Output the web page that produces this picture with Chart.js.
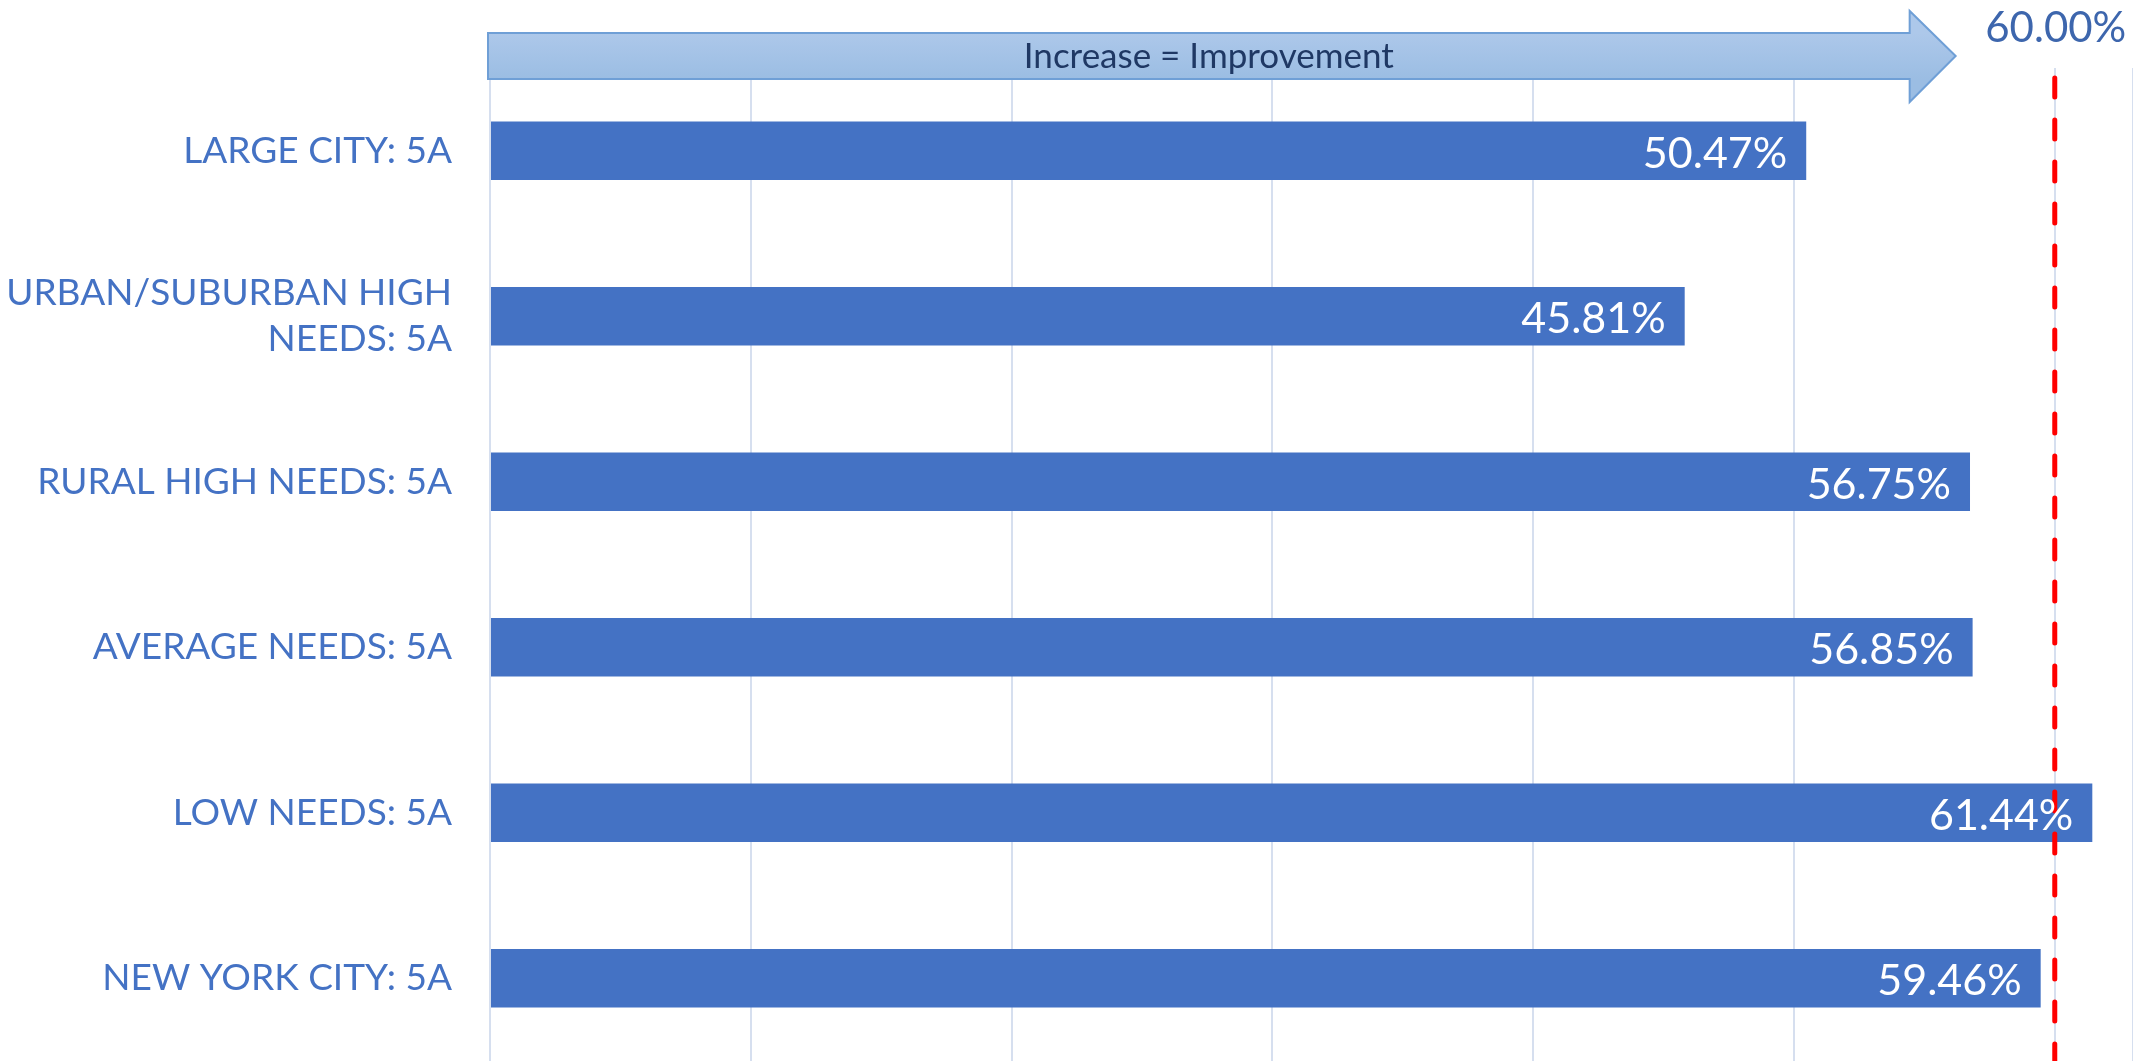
<!DOCTYPE html>
<html>
<head>
<meta charset="utf-8">
<script src="https://cdn.jsdelivr.net/npm/chart.js@4.4.1/dist/chart.umd.min.js"></script>
<style>
    html,body{margin:0;padding:0;background:#ffffff;}
    #wrap{width:2133px;height:1061px;}
</style>
</head>
<body>
<div id="wrap"><canvas id="chart" width="2133" height="1061"></canvas></div>
<script>
"use strict"

// chart data
var arrCategories = [
    'LARGE CITY: 5A',
    ['URBAN/SUBURBAN HIGH', 'NEEDS: 5A'],
    'RURAL HIGH NEEDS: 5A',
    'AVERAGE NEEDS: 5A',
    'LOW NEEDS: 5A',
    'NEW YORK CITY: 5A'
];
var arrValues = [50.47, 45.81, 56.75, 56.85, 61.44, 59.46];

// target line + arrow text
var fltTarget = 60.00;
var strArrowText = 'Increase = Improvement';

var strBlue = '#4472C4';
var strFont = 'Lato';

/*
Draws the big "Increase = Improvement" arrow above the bars.
*/
var pluginArrow = {
    id:'arrow',
    afterDraw:function(chart){
        var ctx = chart.ctx;
        var area = chart.chartArea;
        var x0 = area.left - 2;
        var x1 = chart.scales.x.getPixelForValue(56.2);
        var xHead = x1 - 46;
        var yTop = 33, yBot = 79, yHeadTop = 11, yHeadBot = 102;
        var yMid = (yTop + yBot) / 2;

        ctx.save();
        var grad = ctx.createLinearGradient(0, yTop, 0, yBot);
        grad.addColorStop(0, '#adc8ea');
        grad.addColorStop(1, '#9bbde3');
        ctx.beginPath();
        ctx.moveTo(x0, yTop);
        ctx.lineTo(xHead, yTop);
        ctx.lineTo(xHead, yHeadTop);
        ctx.lineTo(x1, yMid);
        ctx.lineTo(xHead, yHeadBot);
        ctx.lineTo(xHead, yBot);
        ctx.lineTo(x0, yBot);
        ctx.closePath();
        ctx.fillStyle = grad;
        ctx.fill();
        ctx.lineWidth = 2;
        ctx.strokeStyle = '#6f9fd6';
        ctx.stroke();

        ctx.fillStyle = '#1f3864';
        ctx.font = '35px ' + strFont;
        ctx.textAlign = 'center';
        ctx.textBaseline = 'middle';
        ctx.fillText(strArrowText, (x0 + xHead) / 2 + 10, yMid + 1);
        ctx.restore();
    }
};

/*
Red dashed target line and its label.
*/
var pluginTarget = {
    id:'target',
    afterDatasetsDraw:function(chart){
        var ctx = chart.ctx;
        var x = chart.scales.x.getPixelForValue(fltTarget);
        ctx.save();
        ctx.strokeStyle = '#ff0000';
        ctx.lineWidth = 5;
        ctx.lineCap = 'round';
        ctx.setLineDash([19, 23]);
        ctx.beginPath();
        ctx.moveTo(x, 78);
        ctx.lineTo(x, chart.height);
        ctx.stroke();
        ctx.restore();
    },
    afterDraw:function(chart){
        var ctx = chart.ctx;
        var x = chart.scales.x.getPixelForValue(fltTarget);
        ctx.save();
        ctx.fillStyle = '#3d66ad';
        ctx.font = '42px ' + strFont;
        ctx.textAlign = 'center';
        ctx.textBaseline = 'middle';
        ctx.fillText(fltTarget.toFixed(2) + '%', x + 1, 28);
        ctx.restore();
    }
};

/*
White value labels inside the end of each bar.
*/
var pluginValues = {
    id:'values',
    afterDatasetsDraw:function(chart){
        var ctx = chart.ctx;
        var meta = chart.getDatasetMeta(0);
        ctx.save();
        ctx.fillStyle = '#ffffff';
        ctx.font = '43px ' + strFont;
        ctx.textAlign = 'right';
        ctx.textBaseline = 'middle';
        meta.data.forEach(function(bar, i){
            ctx.fillText(arrValues[i].toFixed(2) + '%', bar.x - 19, bar.y + 3);
        });
        ctx.restore();
    }
};

var chart = new Chart('chart',{
    type:'bar',
    data:{
        labels:arrCategories,
        datasets:[{
            data:arrValues,
            backgroundColor:strBlue,
            borderWidth:0,
            barPercentage:0.353,
            categoryPercentage:1.0
        }]
    },
    plugins:[pluginTarget, pluginValues, pluginArrow],
    options:{
        indexAxis:'y',
        responsive:false,
        animation:false,
        layout:{
            padding:{top:68, left:0, right:0, bottom:0}
        },
        plugins:{
            legend:{display:false},
            tooltip:{enabled:false}
        },
        scales:{
            x:{
                min:0,
                max:63,
                ticks:{display:false, stepSize:10},
                grid:{color:'#d6dfef', lineWidth:2, drawTicks:false},
                border:{display:false},
                afterFit:function(scale){ scale.height = 0; }
            },
            y:{
                ticks:{
                    color:strBlue,
                    font:{family:strFont, size:37, lineHeight:1.25},
                    padding:38,
                    autoSkip:false
                },
                grid:{display:false, drawTicks:false},
                border:{display:false},
                afterFit:function(scale){
                    // fixed label column, no extra padding above/below
                    scale.width = 490;
                    scale.paddingTop = 0;
                    scale.paddingBottom = 0;
                }
            }
        }
    }
});
</script>
</body>
</html>
